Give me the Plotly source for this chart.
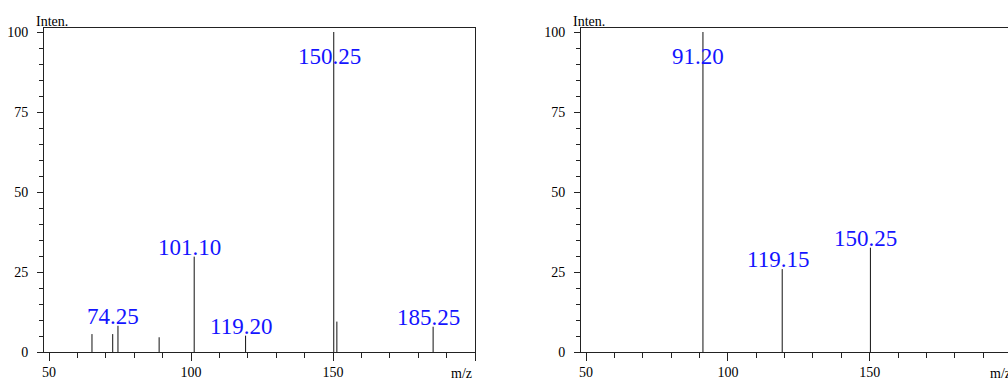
import plotly.graph_objects as go

# ---- data ----
left_mz = [65.10, 72.40, 74.25, 88.75, 101.10, 119.20, 150.25, 151.35, 185.25]
left_int = [5.6, 5.6, 8.2, 4.6, 29.8, 5.1, 100.0, 9.5, 7.9]
left_labels = ["", "", "74.25", "", "101.10", "119.20", "150.25", "", "185.25"]

right_mz = [91.20, 119.15, 150.25]
right_int = [100.0, 25.9, 32.6]
right_labels = ["91.20", "119.15", "150.25"]

x_ticks = [50, 100, 150, 200]
x_tick_text = ["50", "100", "150", ""]
y_ticks = [0, 25, 50, 75, 100]
y_tick_text = ["0", "25", "50", "75", "100"]

# ---- style ----
W, H = 1008, 378
SERIF = "Liberation Serif, Times New Roman, Times, serif"
LABEL_CAP = 89.4
AX_COLOR = "#222222"


def stick_xy(mz, inten):
    xs, ys = [], []
    for m, i in zip(mz, inten):
        xs += [m, m, None]
        ys += [0, i, None]
    return xs, ys


fig = go.Figure()
for mz, inten, xa, ya in [(left_mz, left_int, "x", "y"), (right_mz, right_int, "x2", "y2")]:
    xs, ys = stick_xy(mz, inten)
    fig.add_trace(go.Scatter(x=xs, y=ys, mode="lines", xaxis=xa, yaxis=ya,
                             line=dict(color="#111111", width=1),
                             hoverinfo="skip", showlegend=False))

annotations = []
for mz, inten, labels, xa, ya in [(left_mz, left_int, left_labels, "x", "y"),
                                   (right_mz, right_int, right_labels, "x2", "y2")]:
    for m, i, lab in zip(mz, inten, labels):
        if not lab:
            continue
        annotations.append(dict(x=m, y=min(i, LABEL_CAP), xref=xa, yref=ya, text=lab,
                                showarrow=False, xanchor="center", yanchor="bottom",
                                xshift=-4.5, yshift=-5,
                                font=dict(family=SERIF, size=23, color="#1414ff")))

for xa, ya, side in [("x", "y", "right"), ("x2", "y2", "left")]:
    annotations.append(dict(x=0, y=1, xref=f"{xa} domain", yref=f"{ya} domain", text="Inten.",
                            showarrow=False, xanchor="left", yanchor="bottom", xshift=-10, yshift=-3,
                            font=dict(family=SERIF, size=14, color="black")))
    if side == "right":
        annotations.append(dict(x=1, y=0, xref=f"{xa} domain", yref=f"{ya} domain", text="m/z",
                                showarrow=False, xanchor="right", yanchor="top", xshift=-1, yshift=-12,
                                font=dict(family=SERIF, size=14, color="black")))
    else:
        annotations.append(dict(x=1, y=0, xref=f"{xa} domain", yref=f"{ya} domain", text="m/z",
                                showarrow=False, xanchor="left", yanchor="top", xshift=-20, yshift=-12,
                                font=dict(family=SERIF, size=14, color="black")))

ydom = [(H - 352) / H, (H - 28) / H]
common_x = dict(tickvals=x_ticks, ticktext=x_tick_text, ticks="outside", ticklen=8, tickcolor=AX_COLOR,
                showline=True, linecolor=AX_COLOR, linewidth=1, showgrid=False, zeroline=False,
                tickfont=dict(family=SERIF, size=14, color="black"), automargin=False,
                minor=dict(dtick=10, tick0=0, ticks="outside", ticklen=5, tickcolor=AX_COLOR),
                ticklabelstandoff=-1)
common_y = dict(tickvals=y_ticks, ticktext=y_tick_text, ticks="outside", ticklen=6, tickcolor=AX_COLOR,
                showline=True, linecolor=AX_COLOR, linewidth=1, showgrid=False, zeroline=False,
                tickfont=dict(family=SERIF, size=14, color="black"), automargin=False,
                minor=dict(dtick=5, tick0=0, ticks="outside", ticklen=4, tickcolor=AX_COLOR),
                range=[0, 101.25], domain=ydom, ticklabelstandoff=6)

fig.update_layout(
    width=W, height=H, autosize=False,
    margin=dict(l=0, r=0, t=0, b=0, pad=0),
    paper_bgcolor="white", plot_bgcolor="white",
    font=dict(family=SERIF),
    xaxis=dict(**common_x, domain=[44 / W, 475 / W], range=[48.2, 200], mirror=True, anchor="y"),
    yaxis=dict(**common_y, mirror=True, anchor="x"),
    xaxis2=dict(**common_x, domain=[581 / W, 1.0], range=[48.2, 48.2 + 427 / 2.836],
                mirror=True, anchor="y2"),
    yaxis2=dict(**common_y, mirror=False, anchor="x2"),
    annotations=annotations,
)

fig.write_html("out.html", config={"displayModeBar": False},
               post_script="document.body.style.margin='0px';document.body.style.overflow='hidden';")
